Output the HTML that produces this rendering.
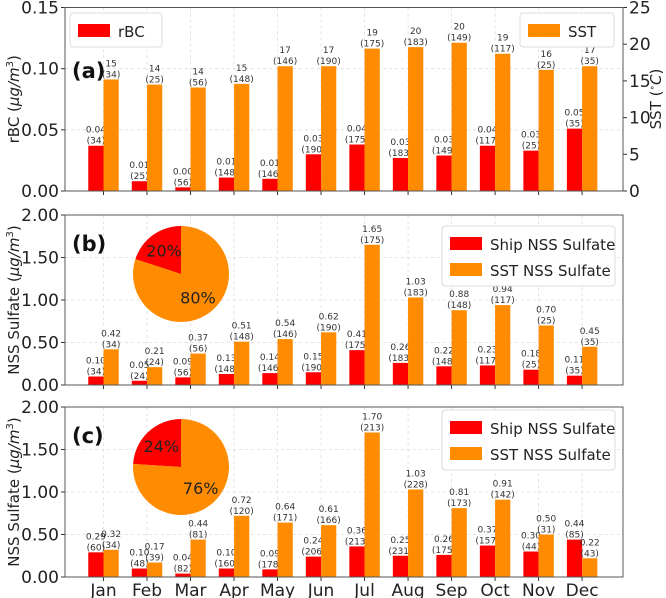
<!DOCTYPE html>
<html><head><meta charset="utf-8"><style>
body{margin:0;background:#fff}
svg{display:block;font-family:"DejaVu Sans","Liberation Sans",sans-serif}
</style></head><body>
<svg id="c" width="666" height="598"></svg>
<script>
const months=["Jan","Feb","Mar","Apr","May","Jun","Jul","Aug","Sep","Oct","Nov","Dec"];
const rbcValues=[0.037,0.008,0.003,0.011,0.010,0.030,0.038,0.027,0.029,0.037,0.033,0.051];
const rbcLabels=["0.04","0.01","0.00","0.01","0.01","0.03","0.04","0.03","0.03","0.04","0.03","0.05"];
const rbcCounts=[34,25,56,148,146,190,175,183,149,117,25,35];
const sstValues=[15.2,14.5,14.1,14.6,17.0,17.0,19.4,19.6,20.2,18.7,16.5,17.0];
const sstLabels=["15","14","14","15","17","17","19","20","20","19","16","17"];
const sstCounts=[34,25,56,148,146,190,175,183,149,117,25,35];
const bShip=[0.10,0.05,0.09,0.13,0.14,0.15,0.41,0.26,0.22,0.23,0.18,0.11];
const bShipCounts=[34,24,56,148,146,190,175,183,148,117,25,35];
const bSst=[0.42,0.21,0.37,0.51,0.54,0.62,1.65,1.03,0.88,0.94,0.70,0.45];
const bSstCounts=[34,24,56,148,146,190,175,183,148,117,25,35];
const cShip=[0.29,0.10,0.04,0.10,0.09,0.24,0.36,0.25,0.26,0.37,0.30,0.44];
const cShipCounts=[60,48,82,160,178,206,213,231,175,157,44,85];
const cSst=[0.32,0.17,0.44,0.72,0.64,0.61,1.70,1.03,0.81,0.91,0.50,0.22];
const cSstCounts=[34,39,81,120,171,166,213,228,173,142,31,43];
const bPie=[20,80];
const cPie=[24,76];
const rbcTicks=[0,0.05,0.10,0.15];
const sstTicks=[0,5,10,15,20,25];
const nssTicks=[0,0.5,1.0,1.5,2.0];

const NS="http://www.w3.org/2000/svg";
const svg=document.getElementById('c');
function mk(tag,attrs,parent){const e=document.createElementNS(NS,tag);for(const k in attrs)e.setAttribute(k,attrs[k]);(parent||svg).appendChild(e);return e;}
const L=65,R=623;
function xs(i){return L+(i+0.885)*(R-L)/12.825;}
const BW=0.35*(R-L)/12.825;
const RED="#ff0000",ORA="#ff8c00";

function panel(name,top,bot,ymax,ticks,fmt,ylabel){
  const g=mk('g',{});
  
  
  const ys=v=>bot-(v/ymax)*(bot-top);
  ticks.forEach(t=>{
    const y=ys(t);
    const gl=mk('line',{x1:L,x2:R,y1:y,y2:y,stroke:'#ddd','stroke-dasharray':'3,3','stroke-width':0.8},g);
    
    mk('line',{x1:L-4,x2:L,y1:y,y2:y,stroke:'#333'},g);
    const tx=mk('text',{x:L-6,y:y+6,'text-anchor':'end','font-size':17,fill:'#222'},g);
    tx.textContent=fmt(t);
    
  });
  months.forEach((m,i)=>{
    const x=xs(i);
    const gl=mk('line',{x1:x,x2:x,y1:top,y2:bot,stroke:'#ddd','stroke-dasharray':'3,3','stroke-width':0.8},g);
    
    mk('line',{x1:x,x2:x,y1:bot,y2:bot+4,stroke:'#333'},g);
  });
  const yl=mk('text',{transform:`translate(19,${(top+bot)/2}) rotate(-90)`,'text-anchor':'middle','font-size':15,fill:'#222'},g);
  yl.innerHTML=ylabel;
  
  return {g,ys};
}
function frame(g,top,bot){
  const f=mk('rect',{x:L,y:top,width:R-L,height:bot-top,fill:'none',stroke:'#555','stroke-width':1},g);
  
}
function bars(g,vals,ys,off,color,labels,counts,nm){
  vals.forEach((v,i)=>{
    const x=xs(i)+off;
    const y=ys(v);
    const r=mk('rect',{x:x,y:y,width:BW,height:ys(0)-y,fill:color},g);
    
    
    const t=mk('text',{x:x+BW/2,y:y-13,'text-anchor':'middle','font-size':9,fill:'#333'},g);
    t.textContent=labels[i];
    
    const t2=mk('text',{x:x+BW/2,y:y-2,'text-anchor':'middle','font-size':9,fill:'#333'},g);
    t2.textContent='('+counts[i]+')';
    
  });
}
function legendBox(g,x,y,w,entries,nm){
  const lg=mk('g',{},g);
  
  const h=entries.length*26+8;
  mk('rect',{x:x,y:y,width:w,height:h,fill:'#fff','fill-opacity':0.85,stroke:'#ddd',rx:3},lg);
  entries.forEach((e,k)=>{
    const yy=y+8+k*26;
    mk('rect',{x:x+8,y:yy+3,width:32,height:13,fill:e[1]},lg);
    const t=mk('text',{x:x+48,y:yy+16,'font-size':15,fill:'#222'},lg);
    t.textContent=e[0];
    
  });
}
function pie(g,cx,cy,r,vals,nm){
  const pg=mk('g',{},g);
  
  const tot=vals[0]+vals[1];
  let a0=Math.PI/2;
  const cols=[RED,ORA];
  vals.forEach((v,k)=>{
    const a1=a0+2*Math.PI*v/tot;
    const x0=cx+r*Math.cos(a0),y0=cy-r*Math.sin(a0),x1=cx+r*Math.cos(a1),y1=cy-r*Math.sin(a1);
    const large=(a1-a0)>Math.PI?1:0;
    const p=mk('path',{d:`M${cx},${cy} L${x0},${y0} A${r},${r} 0 ${large} 0 ${x1},${y1} Z`,fill:cols[k]},pg);
    
    const am=(a0+a1)/2;
    const t=mk('text',{x:cx+0.6*r*Math.cos(am),y:cy-0.6*r*Math.sin(am)+6,'text-anchor':'middle','font-size':16,fill:'#222'},pg);
    t.textContent=v+'%';
    
    a0=a1;
  });
}
function plabel(g,txt,x,y){
  const t=mk('text',{x:x,y:y,'font-size':21,'font-weight':'bold',fill:'#111'},g);
  t.textContent=txt;
}

// Panel a
const A=panel('panel-a',7.5,191,0.15,rbcTicks,t=>t.toFixed(2),'rBC (<tspan font-style="italic">μg/m</tspan><tspan font-size="10" dy="-6">3</tspan><tspan dy="6">)</tspan>');
const sstY=v=>191-(v/25)*(191-7.5);
sstTicks.forEach(t=>{
  const y=sstY(t);
  mk('line',{x1:R,x2:R+4,y1:y,y2:y,stroke:'#333'},A.g);
  const tx=mk('text',{x:R+6,y:y+6,'font-size':17,fill:'#222'},A.g);
  tx.textContent=t;
});
const yr=mk('text',{transform:`translate(661,99) rotate(-90)`,'text-anchor':'middle','font-size':15,fill:'#222'},A.g);
yr.innerHTML='SST (<tspan font-size="9" dy="-6">∘</tspan><tspan dy="6" font-style="italic">C</tspan>)';

bars(A.g,rbcValues,A.ys,-BW,RED,rbcLabels,rbcCounts,'rbc');
bars(A.g,sstValues,sstY,0,ORA,sstLabels,sstCounts,'sst');
frame(A.g,7.5,191);
legendBox(A.g,70,13,92,[['rBC',RED]],'legend-rbc');
legendBox(A.g,520,13,94,[['SST',ORA]],'legend-sst');
plabel(A.g,'(a)',72,78);

// Panel b
const f2=t=>t.toFixed(2);
const nssLabel='NSS Sulfate (<tspan font-style="italic">μg/m</tspan><tspan font-size="10" dy="-6">3</tspan><tspan dy="6">)</tspan>';
const B=panel('panel-b',215,385,2,nssTicks,f2,nssLabel);
bars(B.g,bShip,B.ys,-BW,RED,bShip.map(f2),bShipCounts,'ship');
bars(B.g,bSst,B.ys,0,ORA,bSst.map(f2),bSstCounts,'sst-nss');
frame(B.g,215,385);
legendBox(B.g,442,226,173,[['Ship NSS Sulfate',RED],['SST NSS Sulfate',ORA]],'legend-b');
pie(B.g,181,274,48,bPie,'pie-b');
plabel(B.g,'(b)',72,251);

// Panel c
const C=panel('panel-c',407,577,2,nssTicks,f2,nssLabel);
bars(C.g,cShip,C.ys,-BW,RED,cShip.map(f2),cShipCounts,'ship');
bars(C.g,cSst,C.ys,0,ORA,cSst.map(f2),cSstCounts,'sst-nss');
frame(C.g,407,577);
legendBox(C.g,442,410,173,[['Ship NSS Sulfate',RED],['SST NSS Sulfate',ORA]],'legend-c');
pie(C.g,181,467,48,cPie,'pie-c');
plabel(C.g,'(c)',72,443);
months.forEach((m,i)=>{
  const t=mk('text',{x:xs(i),y:596,'text-anchor':'middle','font-size':17,fill:'#222'});
  t.textContent=m;
});
</script>
</body></html>
